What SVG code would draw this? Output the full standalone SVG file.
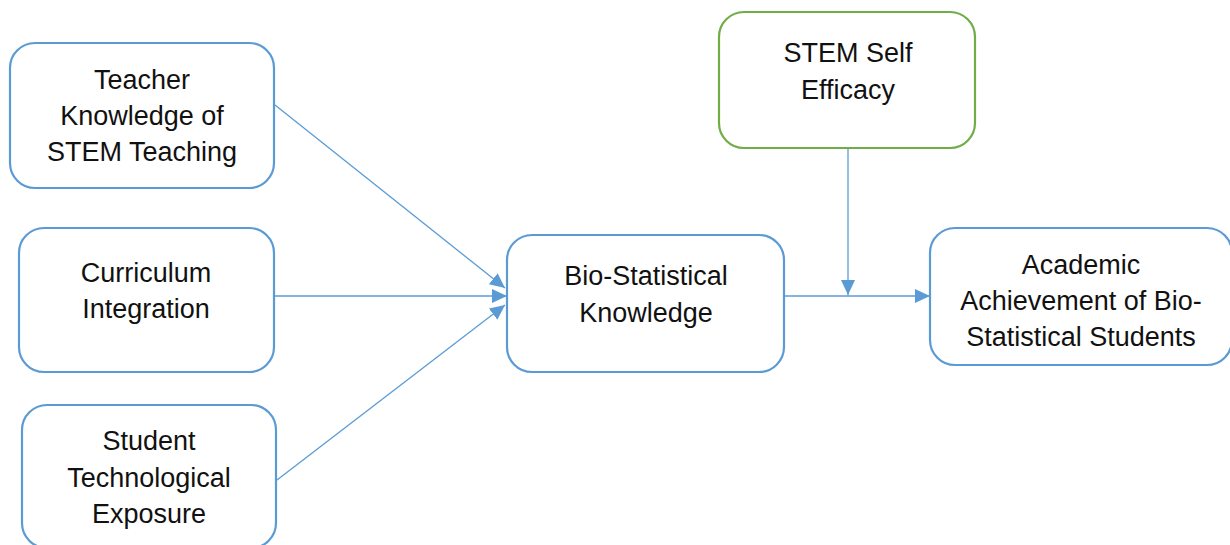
<svg xmlns="http://www.w3.org/2000/svg" width="1230" height="545" viewBox="0 0 1230 545">
  <style>
    .box { fill: #ffffff; stroke: #5B9BD5; stroke-width: 2.2; }
    .box.green { stroke: #70AD47; }
    .lbl { font-family: "Liberation Sans", Arial, sans-serif; font-size: 27px; fill: #111111; text-anchor: middle; }
    .conn { fill: none; stroke: #5B9BD5; stroke-width: 1.3; }
  </style>
  <defs>
    <marker id="arrow" markerUnits="userSpaceOnUse" markerWidth="16" markerHeight="16" viewBox="0 0 16 16" refX="15" refY="8" orient="auto">
      <path d="M0,1 L15,8 L0,15 Z" fill="#5B9BD5"/>
    </marker>
  </defs>
  <rect width="1230" height="545" fill="#ffffff"/>

  <g id="connectors">
    <line class="conn" x1="275" y1="105" x2="505" y2="288" marker-end="url(#arrow)"/>
    <line class="conn" x1="275" y1="296" x2="507" y2="296" marker-end="url(#arrow)"/>
    <line class="conn" x1="277" y1="480" x2="505" y2="305" marker-end="url(#arrow)"/>
    <line class="conn" x1="784" y1="296" x2="930" y2="296" marker-end="url(#arrow)"/>
    <line class="conn" x1="848" y1="148" x2="848" y2="295" marker-end="url(#arrow)"/>
  </g>

  <g id="teacher-knowledge">
    <rect class="box" x="10" y="43" width="264" height="145" rx="25"/>
    <text class="lbl" x="142" y="89">Teacher</text>
    <text class="lbl" x="142" y="125">Knowledge of</text>
    <text class="lbl" x="142" y="161">STEM Teaching</text>
  </g>

  <g id="curriculum-integration">
    <rect class="box" x="19" y="228" width="255" height="144" rx="25"/>
    <text class="lbl" x="146" y="282">Curriculum</text>
    <text class="lbl" x="146" y="318">Integration</text>
  </g>

  <g id="student-exposure">
    <rect class="box" x="22" y="405" width="254" height="143" rx="25"/>
    <text class="lbl" x="149" y="450">Student</text>
    <text class="lbl" x="149" y="487">Technological</text>
    <text class="lbl" x="149" y="523">Exposure</text>
  </g>

  <g id="bio-statistical-knowledge">
    <rect class="box" x="507" y="235" width="277" height="137" rx="25"/>
    <text class="lbl" x="646" y="285">Bio-Statistical</text>
    <text class="lbl" x="646" y="322">Knowledge</text>
  </g>

  <g id="stem-self-efficacy">
    <rect class="box green" x="719" y="12" width="256" height="136" rx="25"/>
    <text class="lbl" x="848" y="62">STEM Self</text>
    <text class="lbl" x="848" y="99">Efficacy</text>
  </g>

  <g id="academic-achievement">
    <rect class="box" x="930" y="228" width="302" height="137" rx="25"/>
    <text class="lbl" x="1081" y="274">Academic</text>
    <text class="lbl" x="1081" y="310">Achievement of Bio-</text>
    <text class="lbl" x="1081" y="346">Statistical Students</text>
  </g>
</svg>
